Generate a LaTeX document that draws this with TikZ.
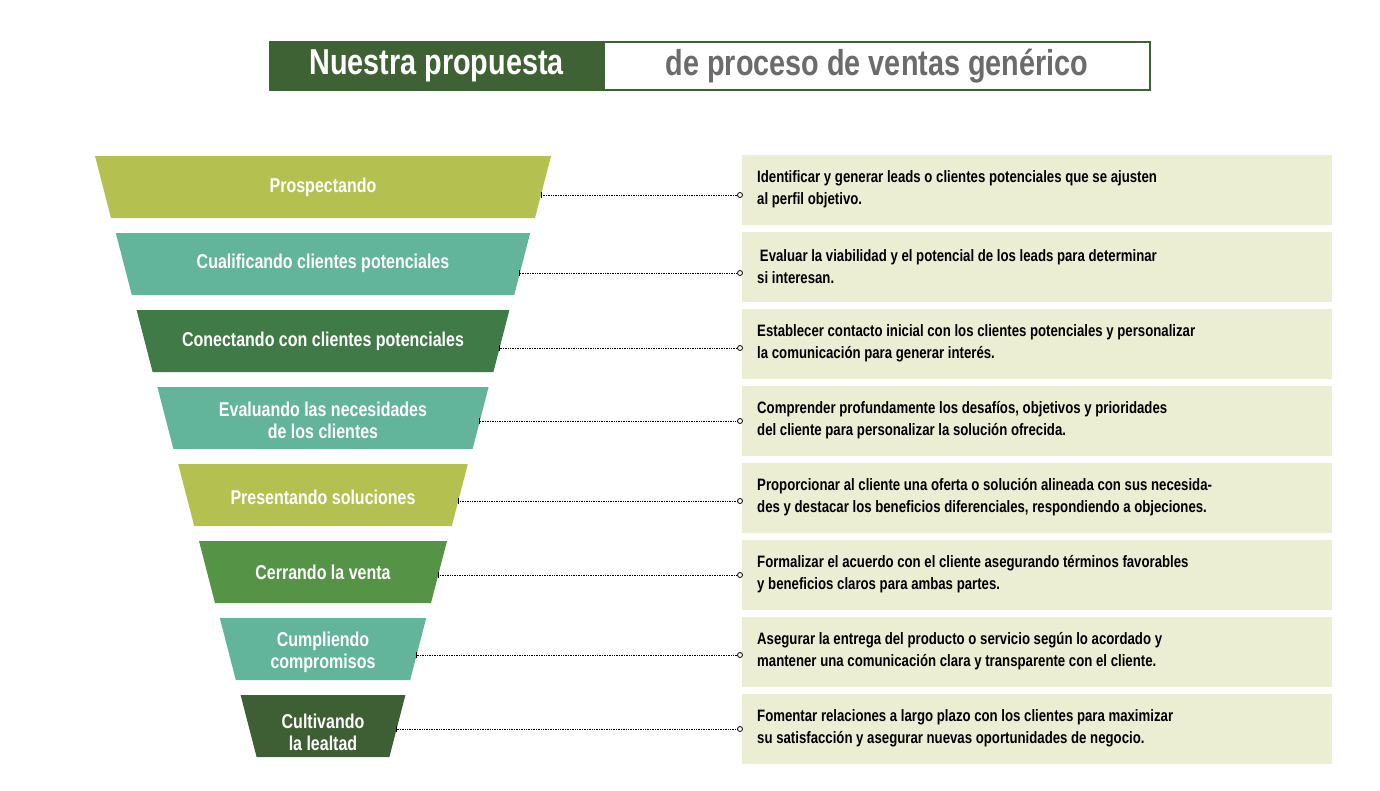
\documentclass[tikz,border=0pt]{standalone}
\usepackage{fontspec}
\setmainfont{Liberation Sans}[FakeStretch=0.80]
\begin{document}
\begin{tikzpicture}[x=1pt,y=-1pt,
  lab/.style={text=white,font=\bfseries\fontsize{20}{22}\selectfont,align=center,inner sep=0},
  desc/.style={anchor=west,align=left,font=\bfseries\fontsize{16.5}{22}\selectfont,inner sep=0,text=black},
  conn/.style={densely dotted,line width=0.7pt},
  endc/.style={circle,draw,line width=0.8pt,fill=white,inner sep=0,minimum size=5pt}]
\definecolor{olive}{HTML}{B4C04F}
\definecolor{teal}{HTML}{62B49A}
\definecolor{dg}{HTML}{3F7A47}
\definecolor{mg}{HTML}{559346}
\definecolor{vdg}{HTML}{3E5E33}
\definecolor{tg}{HTML}{3F6235}
\definecolor{boxc}{HTML}{EBEED3}
\useasboundingbox (0,0) rectangle (1380,790);
\fill[tg] (269,41) rectangle (604,91);
\draw[tg,line width=1.2pt,fill=white] (604,42) rectangle (1150,90);
\node[text=white,font=\bfseries\fontsize{36}{40}\selectfont] (t1) at (436.5,66) {Nuestra propuesta};
\node[text=black!58,font=\bfseries\fontsize{36}{40}\selectfont] (t2) at (877,66) {de proceso de ventas genérico};
\foreach \i/\col/\txt/\ly/\cy/\da/\db in {
 0/olive/{Prospectando}/187/195/{Identificar y generar leads o clientes potenciales que se ajusten}/{al perfil objetivo.},
 1/teal/{Cualificando clientes potenciales}/263/273/{\,Evaluar la viabilidad y el potencial de los leads para determinar}/{si interesan.},
 2/dg/{Conectando con clientes potenciales}/341/348/{Establecer contacto inicial con los clientes potenciales y personalizar}/{la comunicación para generar interés.},
 3/teal/{Evaluando las necesidades\\de los clientes}/420/421/{Comprender profundamente los desafíos, objetivos y prioridades}/{del cliente para personalizar la solución ofrecida.},
 4/olive/{Presentando soluciones}/497/501/{Proporcionar al cliente una oferta o solución alineada con sus necesida-}/{des y destacar los beneficios diferenciales, respondiendo a objeciones.},
 5/mg/{Cerrando la venta}/572/575/{Formalizar el acuerdo con el cliente asegurando términos favorables}/{y beneficios claros para ambas partes.},
 6/teal/{Cumpliendo\\compromisos}/652/655/{Asegurar la entrega del producto o servicio según lo acordado y}/{mantener una comunicación clara y transparente con el cliente.},
 7/vdg/{Cultivando\\la lealtad}/732/729/{Fomentar relaciones a largo plazo con los clientes para maximizar}/{su satisfacción y asegurar nuevas oportunidades de negocio.}}{
  \pgfmathsetmacro{\top}{156+77*\i}
  \pgfmathsetmacro{\bot}{\top+62}
  \pgfmathsetmacro{\l}{95+20.8*\i}
  \pgfmathsetmacro{\r}{551-20.8*\i}
  \fill[\col] (\l,\top) -- (\r,\top) -- (\r-16,\bot) -- (\l+16,\bot) -- cycle;
  \node[lab] (f\i) at (323,\ly) {\txt};
  \fill[boxc] (742,\top-1) rectangle (1332,\top+69);
  \node[desc] (d\i) at (757,\top+33.5) {\da\\\db};
  \pgfmathsetmacro{\tx}{\r-16*(\cy-\top)/62}
  \coordinate (s\i) at (\tx,\cy);
  \node[endc] (e\i) at (740,\cy) {};
  \draw[conn] (s\i) -- (e\i.west);
  \draw[line width=0.8pt] ([yshift=-3pt]s\i) -- ([yshift=3pt]s\i);
}
\end{tikzpicture}
\end{document}
